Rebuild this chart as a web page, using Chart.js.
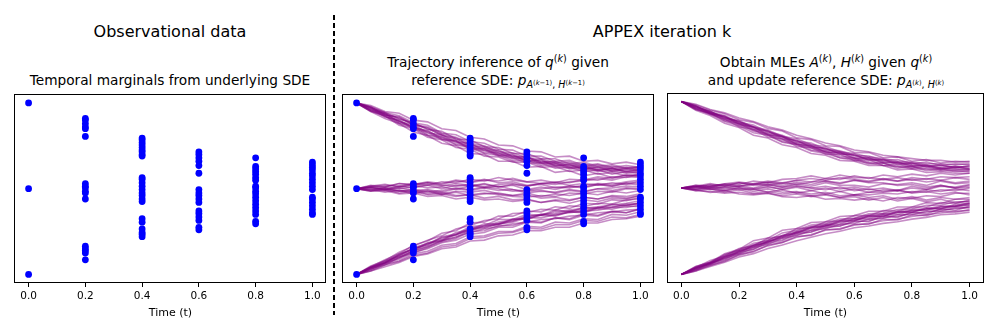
<!DOCTYPE html>
<html><head><meta charset="utf-8">
<script src="https://cdn.jsdelivr.net/npm/chart.js@4.4.0/dist/chart.umd.min.js"></script>
<style>
html,body{margin:0;padding:0;background:#fff;}
#wrap{position:relative;width:996px;height:332px;overflow:hidden;font-family:'DejaVu Sans',sans-serif;color:#000;}
.t{position:absolute;white-space:nowrap;transform:translateX(-50%);}
.big{font-size:16px;line-height:19px;}
.sub{font-size:13.7px;line-height:16px;}
.sp{font-size:9.6px;position:relative;top:-5.5px;}
.sb{font-size:9.6px;position:relative;top:3px;}
.sp2{font-size:6.8px;position:relative;top:-3.5px;}
canvas{position:absolute;}
#dash{position:absolute;left:333px;top:15px;width:2px;height:300px;background:repeating-linear-gradient(to bottom,#000 0,#000 5.5px,transparent 5.5px,transparent 8px);}
</style></head>
<body>
<div id="wrap">
  <div class="t big" style="left:170px;top:22px;">Observational data</div>
  <div class="t big" style="left:662px;top:22px;">APPEX iteration k</div>
  <div class="t sub" style="left:170px;top:72px;">Temporal marginals from underlying SDE</div>
  <div class="t sub" style="left:498px;top:54px;">Trajectory inference of <i>q</i><span class="sp">(<i>k</i>)</span> given</div>
  <div class="t sub" style="left:498px;top:72px;">reference SDE: <i>p</i><span class="sb"><i>A</i><span class="sp2">(<i>k</i>−1)</span>, <i>H</i><span class="sp2">(<i>k</i>−1)</span></span></div>
  <div class="t sub" style="left:826px;top:54px;">Obtain MLEs <i>A</i><span class="sp">(<i>k</i>)</span>, <i>H</i><span class="sp">(<i>k</i>)</span> given <i>q</i><span class="sp">(<i>k</i>)</span></div>
  <div class="t sub" style="left:826px;top:72px;">and update reference SDE: <i>p</i><span class="sb"><i>A</i><span class="sp2">(<i>k</i>)</span>, <i>H</i><span class="sp2">(<i>k</i>)</span></span></div>
  <div id="dash"></div>
  <canvas id="c1" width="319" height="233" style="left:11px;top:91px;"></canvas>
  <canvas id="c2" width="319" height="233" style="left:339px;top:91px;"></canvas>
  <canvas id="c3" width="321" height="233" style="left:665px;top:91px;"></canvas>
</div>
<script>
// ---- data ----
const xTickValues = [0, 0.2, 0.4, 0.6, 0.8, 1.0];
const xLabel = 'Time (t)';
const tGrid = [0,0.05,0.1,0.15,0.2,0.25,0.3,0.35,0.4,0.45,0.5,0.55,0.6,0.65,0.7,0.75,0.8,0.85,0.9,0.95,1.0];

const obsTimes = [0, 0.2, 0.4, 0.6, 0.8, 1.0];
const obsT00 = [1.0, 0.0, -1.0];
const obsT02 = [0.82, 0.80, 0.76, 0.72, 0.70, 0.61, 0.06, 0.03, 0.01, -0.03, -0.05, -0.12, -0.67, -0.70, -0.72, -0.75, -0.83];
const obsT04 = [0.59, 0.57, 0.54, 0.51, 0.48, 0.45, 0.43, 0.40, 0.38, 0.13, 0.11, 0.07, 0.03, -0.01, -0.05, -0.08, -0.12, -0.15, -0.35, -0.39, -0.47, -0.51, -0.53, -0.56];
const obsT06 = [0.43, 0.40, 0.36, 0.32, 0.27, 0.18, -0.01, -0.05, -0.08, -0.12, -0.16, -0.26, -0.29, -0.33, -0.37, -0.45, -0.48];
const obsT08 = [0.36, 0.26, 0.23, 0.20, 0.17, 0.13, 0.10, 0.03, 0.01, -0.03, -0.06, -0.10, -0.14, -0.18, -0.22, -0.26, -0.30, -0.38, -0.41];
const obsT10 = [0.31, 0.28, 0.25, 0.22, 0.18, 0.15, 0.11, 0.07, 0.03, -0.01, -0.10, -0.12, -0.16, -0.20, -0.24, -0.28, -0.30];

// trajectory inference q(k), middle panel
const infTop = [
 [1.00,0.95,0.86,0.83,0.74,0.71,0.62,0.59,0.50,0.49,0.41,0.40,0.33,0.34,0.27,0.29,0.23,0.26,0.21,0.24,0.22],
 [1.00,0.91,0.87,0.77,0.73,0.63,0.61,0.52,0.50,0.42,0.42,0.35,0.36,0.29,0.30,0.24,0.26,0.21,0.24,0.19,0.21],
 [1.00,0.96,0.89,0.85,0.77,0.74,0.65,0.63,0.55,0.53,0.46,0.45,0.38,0.38,0.32,0.33,0.27,0.29,0.25,0.27,0.25],
 [1.00,0.90,0.85,0.74,0.70,0.60,0.57,0.48,0.46,0.38,0.37,0.31,0.31,0.25,0.26,0.20,0.22,0.17,0.19,0.15,0.17],
 [1.00,0.94,0.84,0.80,0.71,0.68,0.58,0.56,0.47,0.47,0.39,0.39,0.32,0.33,0.26,0.28,0.22,0.25,0.20,0.23,0.20],
 [1.00,0.92,0.88,0.78,0.75,0.65,0.63,0.54,0.53,0.44,0.44,0.37,0.37,0.31,0.31,0.26,0.27,0.22,0.24,0.20,0.22],
 [1.00,0.97,0.90,0.88,0.80,0.78,0.70,0.68,0.60,0.58,0.51,0.50,0.44,0.43,0.37,0.38,0.32,0.33,0.29,0.31,0.28],
 [1.00,0.90,0.82,0.76,0.66,0.62,0.53,0.50,0.41,0.40,0.32,0.32,0.25,0.26,0.19,0.21,0.15,0.18,0.13,0.16,0.14],
 [1.00,0.95,0.86,0.84,0.75,0.72,0.64,0.60,0.53,0.50,0.43,0.42,0.36,0.35,0.30,0.31,0.25,0.28,0.23,0.25,0.24],
 [1.00,0.92,0.84,0.79,0.70,0.66,0.57,0.55,0.46,0.45,0.38,0.36,0.30,0.30,0.24,0.25,0.20,0.22,0.17,0.20,0.18],
 [1.00,0.94,0.89,0.81,0.77,0.69,0.67,0.58,0.57,0.49,0.48,0.41,0.41,0.35,0.35,0.29,0.31,0.26,0.28,0.24,0.26],
 [1.00,0.91,0.85,0.76,0.71,0.62,0.59,0.51,0.48,0.41,0.39,0.33,0.33,0.27,0.28,0.23,0.24,0.20,0.21,0.18,0.19],
 [1.00,0.95,0.88,0.82,0.76,0.70,0.63,0.57,0.52,0.47,0.45,0.38,0.37,0.31,0.32,0.27,0.29,0.24,0.26,0.23,0.25],
 [1.00,0.93,0.87,0.79,0.72,0.67,0.60,0.56,0.49,0.46,0.40,0.37,0.33,0.30,0.29,0.25,0.25,0.22,0.23,0.21,0.23]
];
const infMid = [
 [0,0.03,0.02,0.06,0.04,0.07,0.05,0.09,0.07,0.10,0.09,0.12,0.08,0.10,0.07,0.11,0.10,0.14,0.12,0.16,0.15],
 [0,-0.03,-0.02,-0.06,-0.05,-0.09,-0.08,-0.12,-0.10,-0.13,-0.12,-0.15,-0.13,-0.16,-0.13,-0.14,-0.10,-0.12,-0.08,-0.09,-0.06],
 [0,0.02,-0.01,0.03,0.01,0.04,0.00,0.04,0.03,0.06,0.02,0.04,-0.01,0.02,-0.01,0.03,0.01,0.05,0.03,0.07,0.06],
 [0,-0.01,-0.04,-0.02,-0.06,-0.03,-0.07,-0.04,-0.08,-0.06,-0.05,-0.08,-0.05,-0.09,-0.06,-0.08,-0.05,-0.07,-0.03,-0.05,-0.02],
 [0,0.02,0.04,0.03,0.06,0.04,0.08,0.07,0.11,0.09,0.13,0.10,0.08,0.06,0.07,0.04,0.06,0.04,0.07,0.05,0.09],
 [0,-0.03,-0.01,-0.05,-0.03,-0.07,-0.06,-0.09,-0.07,-0.11,-0.09,-0.13,-0.12,-0.16,-0.14,-0.17,-0.13,-0.15,-0.11,-0.12,-0.08],
 [0,0.03,0.05,0.02,0.05,0.07,0.04,0.03,0.05,0.02,0.05,0.06,0.03,0.06,0.05,0.08,0.09,0.12,0.10,0.14,0.13],
 [0,0.01,-0.02,0.01,-0.02,-0.01,-0.04,0.00,-0.02,0.01,-0.02,-0.01,-0.05,-0.03,-0.04,-0.01,-0.03,0.00,0.01,0.03,0.02],
 [0,-0.02,0.00,-0.03,-0.02,-0.06,-0.04,-0.08,-0.07,-0.05,-0.07,-0.09,-0.10,-0.08,-0.09,-0.05,-0.06,-0.03,-0.04,0.00,-0.01],
 [0,0.04,0.02,0.06,0.05,0.08,0.06,0.10,0.08,0.11,0.07,0.08,0.04,0.05,0.01,0.03,0.02,0.05,0.03,0.06,0.04],
 [0,-0.02,0.01,-0.02,-0.04,-0.02,-0.06,-0.03,-0.04,-0.02,-0.06,-0.08,-0.07,-0.11,-0.10,-0.13,-0.10,-0.12,-0.09,-0.11,-0.08],
 [0,0.01,-0.01,0.02,0.04,0.01,0.02,-0.01,0.03,0.05,0.02,0.05,0.03,0.06,0.08,0.07,0.11,0.10,0.14,0.13,0.17],
 [0,-0.01,0.02,0.00,0.02,0.05,0.03,0.06,0.04,0.01,0.03,-0.01,-0.03,-0.02,-0.05,-0.02,-0.04,0.00,-0.02,0.01,0.00],
 [0,0.02,0.00,-0.03,-0.01,-0.04,-0.02,0.01,-0.01,0.02,0.00,-0.03,-0.02,0.00,0.02,0.01,0.04,0.06,0.05,0.08,0.10]
];
const infBot = [
 [-1.00,-0.92,-0.87,-0.77,-0.70,-0.66,-0.56,-0.53,-0.44,-0.43,-0.36,-0.36,-0.30,-0.31,-0.25,-0.27,-0.22,-0.23,-0.18,-0.20,-0.16],
 [-1.00,-0.95,-0.88,-0.84,-0.76,-0.73,-0.66,-0.64,-0.56,-0.55,-0.50,-0.50,-0.44,-0.45,-0.39,-0.40,-0.35,-0.36,-0.30,-0.31,-0.27],
 [-1.00,-0.91,-0.86,-0.76,-0.71,-0.63,-0.60,-0.51,-0.48,-0.41,-0.41,-0.35,-0.36,-0.30,-0.31,-0.27,-0.28,-0.23,-0.24,-0.20,-0.21],
 [-1.00,-0.94,-0.87,-0.82,-0.74,-0.70,-0.63,-0.60,-0.53,-0.51,-0.45,-0.45,-0.39,-0.40,-0.34,-0.35,-0.29,-0.31,-0.26,-0.28,-0.23],
 [-1.00,-0.90,-0.84,-0.74,-0.67,-0.60,-0.55,-0.47,-0.43,-0.37,-0.35,-0.29,-0.28,-0.24,-0.25,-0.20,-0.21,-0.17,-0.18,-0.13,-0.12],
 [-1.00,-0.96,-0.89,-0.85,-0.78,-0.75,-0.68,-0.66,-0.58,-0.57,-0.52,-0.51,-0.46,-0.47,-0.42,-0.42,-0.37,-0.38,-0.33,-0.34,-0.30],
 [-1.00,-0.92,-0.85,-0.79,-0.72,-0.64,-0.61,-0.53,-0.49,-0.43,-0.42,-0.36,-0.35,-0.31,-0.32,-0.27,-0.27,-0.22,-0.22,-0.18,-0.18],
 [-1.00,-0.93,-0.89,-0.80,-0.75,-0.69,-0.62,-0.58,-0.50,-0.49,-0.43,-0.43,-0.38,-0.39,-0.34,-0.36,-0.31,-0.32,-0.27,-0.28,-0.24],
 [-1.00,-0.91,-0.83,-0.76,-0.66,-0.61,-0.52,-0.49,-0.40,-0.39,-0.32,-0.32,-0.26,-0.27,-0.21,-0.23,-0.17,-0.18,-0.13,-0.14,-0.10],
 [-1.00,-0.96,-0.91,-0.86,-0.79,-0.76,-0.70,-0.68,-0.61,-0.60,-0.55,-0.54,-0.49,-0.49,-0.45,-0.45,-0.40,-0.40,-0.36,-0.35,-0.32],
 [-1.00,-0.92,-0.84,-0.78,-0.69,-0.64,-0.57,-0.54,-0.47,-0.45,-0.41,-0.39,-0.34,-0.34,-0.30,-0.28,-0.26,-0.25,-0.22,-0.22,-0.19],
 [-1.00,-0.93,-0.87,-0.81,-0.72,-0.68,-0.60,-0.57,-0.48,-0.46,-0.41,-0.38,-0.32,-0.31,-0.27,-0.25,-0.23,-0.21,-0.19,-0.17,-0.14],
 [-1.00,-0.94,-0.86,-0.80,-0.73,-0.67,-0.61,-0.56,-0.51,-0.47,-0.44,-0.41,-0.39,-0.36,-0.35,-0.32,-0.31,-0.28,-0.27,-0.25,-0.24],
 [-1.00,-0.92,-0.86,-0.78,-0.70,-0.65,-0.58,-0.54,-0.46,-0.44,-0.39,-0.37,-0.33,-0.30,-0.29,-0.26,-0.25,-0.22,-0.21,-0.19,-0.17]
];

// updated reference SDE samples, right panel
const refTop = [
 [1.00,0.95,0.88,0.84,0.76,0.73,0.65,0.61,0.54,0.52,0.45,0.43,0.38,0.37,0.32,0.33,0.28,0.30,0.26,0.28,0.27],
 [1.00,0.91,0.87,0.78,0.74,0.66,0.62,0.54,0.51,0.44,0.42,0.35,0.34,0.28,0.29,0.23,0.25,0.20,0.22,0.19,0.20],
 [1.00,0.96,0.90,0.86,0.79,0.76,0.69,0.66,0.58,0.56,0.49,0.48,0.41,0.41,0.35,0.36,0.31,0.33,0.29,0.31,0.30],
 [1.00,0.92,0.85,0.80,0.71,0.68,0.59,0.57,0.48,0.47,0.39,0.39,0.32,0.33,0.26,0.28,0.23,0.25,0.21,0.24,0.22],
 [1.00,0.94,0.89,0.80,0.77,0.68,0.66,0.57,0.55,0.47,0.46,0.39,0.39,0.32,0.33,0.27,0.29,0.24,0.27,0.23,0.26],
 [1.00,0.93,0.86,0.82,0.73,0.70,0.61,0.59,0.50,0.49,0.41,0.41,0.34,0.35,0.29,0.30,0.25,0.27,0.22,0.25,0.22],
 [1.00,0.97,0.91,0.87,0.81,0.77,0.71,0.67,0.61,0.57,0.52,0.49,0.44,0.42,0.38,0.36,0.34,0.32,0.32,0.30,0.31],
 [1.00,0.90,0.84,0.75,0.70,0.61,0.58,0.50,0.47,0.40,0.38,0.32,0.31,0.26,0.26,0.21,0.22,0.18,0.19,0.17,0.17],
 [1.00,0.95,0.87,0.83,0.75,0.71,0.64,0.60,0.53,0.50,0.44,0.42,0.37,0.35,0.31,0.30,0.27,0.26,0.24,0.25,0.24],
 [1.00,0.92,0.87,0.79,0.75,0.67,0.63,0.56,0.52,0.46,0.43,0.37,0.35,0.30,0.29,0.25,0.25,0.22,0.23,0.21,0.22],
 [1.00,0.94,0.88,0.82,0.77,0.71,0.67,0.60,0.57,0.50,0.48,0.42,0.40,0.36,0.34,0.31,0.30,0.28,0.28,0.27,0.28],
 [1.00,0.91,0.86,0.77,0.72,0.64,0.61,0.53,0.50,0.43,0.40,0.35,0.32,0.29,0.26,0.25,0.22,0.22,0.20,0.20,0.19],
 [1.00,0.93,0.89,0.81,0.78,0.70,0.66,0.59,0.55,0.48,0.46,0.40,0.38,0.33,0.33,0.29,0.29,0.26,0.26,0.24,0.25],
 [1.00,0.95,0.86,0.83,0.74,0.71,0.62,0.60,0.51,0.49,0.42,0.41,0.35,0.34,0.30,0.29,0.26,0.25,0.23,0.22,0.21]
];
const refMid = [
 [0,0.03,0.02,0.05,0.07,0.05,0.08,0.06,0.09,0.11,0.09,0.12,0.10,0.08,0.11,0.08,0.10,0.07,0.09,0.06,0.08],
 [0,-0.02,-0.05,-0.03,-0.07,-0.08,-0.06,-0.10,-0.11,-0.09,-0.13,-0.12,-0.14,-0.12,-0.15,-0.11,-0.12,-0.09,-0.10,-0.06,-0.06],
 [0,0.02,0.00,0.03,0.01,-0.01,0.02,-0.02,0.01,-0.03,0.00,-0.04,-0.01,-0.05,-0.02,-0.03,0.00,-0.02,0.02,0.01,0.04],
 [0,0.01,0.04,0.03,0.06,0.04,0.07,0.05,0.09,0.07,0.11,0.10,0.14,0.11,0.15,0.13,0.16,0.14,0.17,0.15,0.17],
 [0,-0.03,-0.01,-0.05,-0.02,-0.06,-0.04,-0.07,-0.05,-0.09,-0.07,-0.11,-0.08,-0.08,-0.06,-0.07,-0.04,-0.05,-0.02,-0.03,0.00],
 [0,0.02,0.05,0.02,0.06,0.03,0.04,0.01,0.03,0.00,0.02,-0.01,0.01,-0.02,0.00,-0.03,0.02,-0.01,0.03,0.00,0.03],
 [0,-0.01,0.01,-0.03,0.00,-0.04,-0.01,-0.05,-0.04,-0.07,-0.05,-0.09,-0.08,-0.11,-0.09,-0.13,-0.10,-0.14,-0.11,-0.13,-0.11],
 [0,0.03,0.01,0.05,0.04,0.08,0.06,0.10,0.11,0.14,0.11,0.15,0.12,0.12,0.10,0.12,0.09,0.11,0.09,0.12,0.10],
 [0,-0.02,0.00,0.01,-0.02,-0.01,-0.05,-0.02,-0.06,-0.03,-0.07,-0.04,-0.08,-0.05,-0.05,-0.03,-0.05,-0.02,-0.04,-0.01,-0.03],
 [0,0.01,-0.02,0.01,0.03,0.00,0.04,0.01,0.05,0.02,0.06,0.03,0.03,0.01,0.05,0.04,0.06,0.03,0.08,0.05,0.06],
 [0,-0.03,-0.04,-0.06,-0.05,-0.07,-0.06,-0.09,-0.07,-0.10,-0.08,-0.11,-0.10,-0.14,-0.11,-0.15,-0.12,-0.16,-0.13,-0.17,-0.15],
 [0,0.01,0.03,-0.01,0.02,0.04,0.06,0.03,0.07,0.04,0.08,0.05,0.09,0.06,0.06,0.03,0.04,0.01,0.03,0.00,0.01],
 [0,0.02,-0.01,-0.03,0.00,-0.02,0.01,-0.01,0.02,0.00,-0.02,0.01,-0.03,-0.01,-0.04,-0.02,-0.06,-0.04,-0.07,-0.05,-0.08],
 [0,-0.01,0.02,0.04,0.02,0.05,0.03,0.06,0.04,0.07,0.08,0.06,0.09,0.07,0.10,0.08,0.12,0.10,0.13,0.12,0.13]
];
const refBot = [
 [-1.00,-0.92,-0.87,-0.77,-0.72,-0.64,-0.61,-0.52,-0.49,-0.43,-0.41,-0.36,-0.35,-0.30,-0.29,-0.25,-0.24,-0.20,-0.20,-0.16,-0.16],
 [-1.00,-0.96,-0.89,-0.85,-0.77,-0.74,-0.66,-0.63,-0.56,-0.55,-0.48,-0.48,-0.42,-0.42,-0.36,-0.37,-0.31,-0.32,-0.27,-0.28,-0.25],
 [-1.00,-0.92,-0.88,-0.79,-0.75,-0.66,-0.63,-0.55,-0.52,-0.45,-0.44,-0.38,-0.38,-0.32,-0.33,-0.27,-0.28,-0.23,-0.24,-0.19,-0.18],
 [-1.00,-0.95,-0.87,-0.83,-0.74,-0.71,-0.62,-0.60,-0.52,-0.51,-0.44,-0.44,-0.38,-0.39,-0.32,-0.34,-0.28,-0.30,-0.24,-0.26,-0.21],
 [-1.00,-0.91,-0.86,-0.76,-0.71,-0.61,-0.58,-0.49,-0.47,-0.40,-0.39,-0.33,-0.32,-0.27,-0.27,-0.22,-0.22,-0.17,-0.18,-0.13,-0.13],
 [-1.00,-0.95,-0.90,-0.84,-0.78,-0.73,-0.67,-0.63,-0.57,-0.54,-0.49,-0.47,-0.43,-0.41,-0.38,-0.36,-0.33,-0.31,-0.29,-0.27,-0.26],
 [-1.00,-0.93,-0.86,-0.81,-0.73,-0.69,-0.61,-0.58,-0.51,-0.49,-0.43,-0.42,-0.36,-0.36,-0.31,-0.31,-0.26,-0.26,-0.22,-0.22,-0.19],
 [-1.00,-0.96,-0.91,-0.86,-0.80,-0.76,-0.70,-0.66,-0.61,-0.57,-0.53,-0.50,-0.46,-0.44,-0.41,-0.39,-0.36,-0.34,-0.31,-0.30,-0.28],
 [-1.00,-0.92,-0.84,-0.79,-0.70,-0.67,-0.58,-0.56,-0.47,-0.46,-0.39,-0.38,-0.32,-0.32,-0.26,-0.27,-0.22,-0.22,-0.17,-0.18,-0.14],
 [-1.00,-0.94,-0.89,-0.81,-0.76,-0.69,-0.65,-0.58,-0.55,-0.49,-0.47,-0.42,-0.41,-0.36,-0.35,-0.31,-0.31,-0.27,-0.27,-0.23,-0.23],
 [-1.00,-0.93,-0.87,-0.80,-0.74,-0.67,-0.63,-0.56,-0.53,-0.46,-0.45,-0.39,-0.38,-0.33,-0.33,-0.28,-0.28,-0.24,-0.24,-0.21,-0.20],
 [-1.00,-0.91,-0.86,-0.78,-0.72,-0.66,-0.60,-0.55,-0.50,-0.45,-0.42,-0.38,-0.35,-0.32,-0.30,-0.28,-0.25,-0.24,-0.21,-0.21,-0.17],
 [-1.00,-0.94,-0.87,-0.82,-0.76,-0.71,-0.64,-0.61,-0.54,-0.51,-0.46,-0.44,-0.39,-0.38,-0.34,-0.33,-0.29,-0.28,-0.25,-0.24,-0.22],
 [-1.00,-0.93,-0.88,-0.80,-0.73,-0.68,-0.62,-0.57,-0.51,-0.47,-0.43,-0.40,-0.36,-0.34,-0.30,-0.29,-0.26,-0.25,-0.22,-0.21,-0.18]
];

// ---- build ----
Chart.defaults.font.family = "'DejaVu Sans', sans-serif";
Chart.defaults.color = '#000';

const obsSets = [obsT00, obsT02, obsT04, obsT06, obsT08, obsT10];
const obsPoints = obsSets.flatMap((arr, i) => arr.map(v => ({x: obsTimes[i], y: v})));

function scatterDs() {
  return {type: 'scatter', data: obsPoints, pointRadius: 3.4, pointHoverRadius: 3.4,
          backgroundColor: '#0000ff', borderWidth: 0, pointBorderWidth: 0};
}
function lineDs(groups) {
  const out = [];
  groups.forEach(g => g.forEach(tr => out.push({
    type: 'line', data: tGrid.map((t, i) => ({x: t, y: tr[i]})),
    borderColor: 'rgba(128,0,128,0.45)', borderWidth: 1.6, pointRadius: 0,
    tension: 0, fill: false
  })));
  return out;
}

const framePlugin = {
  id: 'frame',
  afterDraw(c) {
    const a = c.chartArea, ctx = c.ctx;
    ctx.save();
    ctx.strokeStyle = '#000';
    ctx.lineWidth = 1;
    ctx.strokeRect(Math.round(a.left) + 0.5, Math.round(a.top) + 0.5,
                   Math.round(a.right - a.left) - 1, Math.round(a.bottom - a.top) - 1);
    ctx.restore();
  }
};

function makeChart(id, datasets) {
  return new Chart(document.getElementById(id), {
    data: {datasets},
    options: {
      responsive: false, animation: false, devicePixelRatio: 1,
      events: [],
      layout: {padding: {left: 2, right: 2, top: 2, bottom: 0}},
      plugins: {legend: {display: false}, tooltip: {enabled: false}},
      scales: {
        x: {
          type: 'linear', position: 'bottom', min: -0.05, max: 1.05,
          afterBuildTicks: s => { s.ticks = xTickValues.map(v => ({value: v})); },
          afterFit: s => { s.height = 41; },
          ticks: {font: {size: 10.5}, padding: 3, maxRotation: 0, color: '#000',
                  callback: v => Number(v).toFixed(1)},
          grid: {display: true, drawOnChartArea: false, drawTicks: true, tickLength: 4,
                 color: '#000', lineWidth: 1},
          border: {display: false},
          title: {display: true, text: xLabel, font: {size: 11}, color: '#000',
                  padding: {top: 4, bottom: 4}}
        },
        y: {type: 'linear', display: false, min: -1.1, max: 1.1}
      }
    },
    plugins: [framePlugin]
  });
}

makeChart('c1', [scatterDs()]);
makeChart('c2', [scatterDs()].concat(lineDs([infTop, infMid, infBot])));
makeChart('c3', lineDs([refTop, refMid, refBot]));
</script>
</body></html>
